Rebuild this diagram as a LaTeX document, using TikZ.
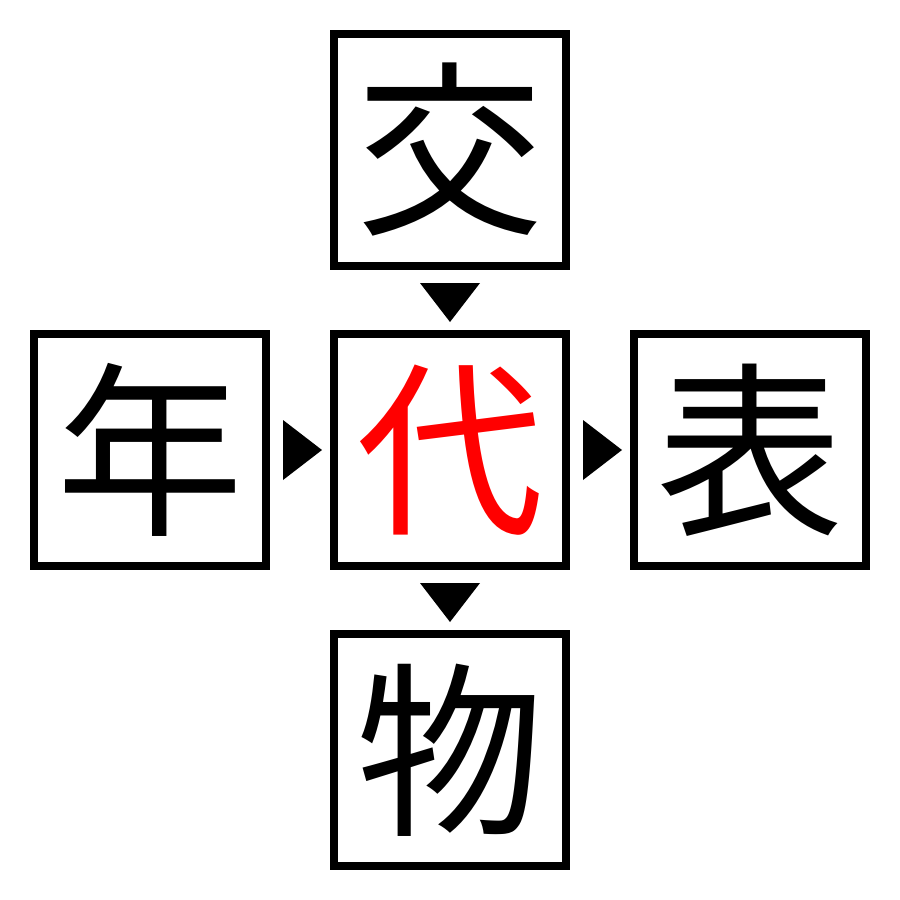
\documentclass[tikz,border=0pt]{standalone}
\usepackage{fontspec}
\newfontfamily\cjk{Noto Sans CJK JP}
\begin{document}
\begin{tikzpicture}[x=0.03cm,y=-0.03cm,
  box/.style={draw=black,line width=0.24cm,minimum size=6.96cm,inner sep=0,font=\cjk\fontsize{160}{160}\selectfont},
  tri/.style={fill=black}]
\useasboundingbox (0,0) rectangle (900,900);
\node[box] (t) at (450,150) {交};
\node[box] (c) at (450,450) {\textcolor{red}{代}};
\node[box] (l) at (150,450) {年};
\node[box] (r) at (750,450) {表};
\node[box] (b) at (450,750) {物};
\fill[tri] (420,283) -- (480,283) -- (450,322) -- cycle;
\fill[tri] (420,583) -- (480,583) -- (450,622) -- cycle;
\fill[tri] (283,420) -- (283,480) -- (322,450) -- cycle;
\fill[tri] (583,420) -- (583,480) -- (622,450) -- cycle;
\end{tikzpicture}
\end{document}
